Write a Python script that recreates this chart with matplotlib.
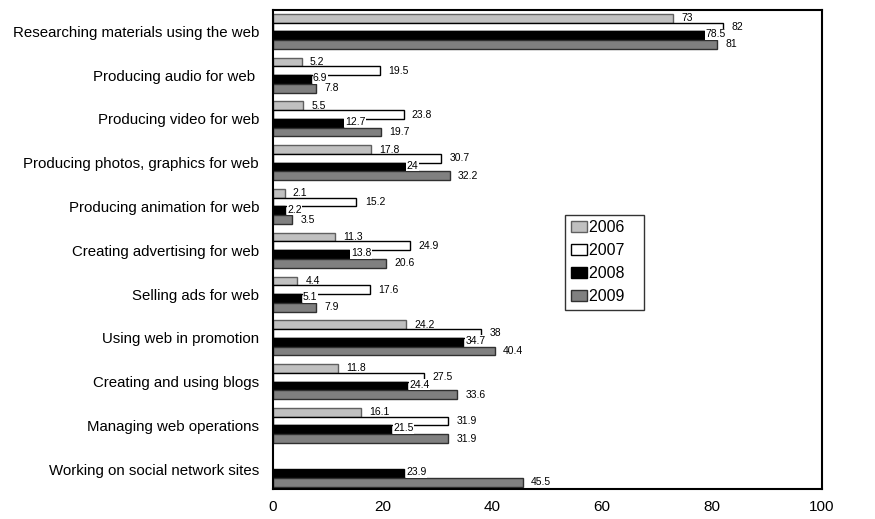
import numpy as np
import matplotlib
matplotlib.use('Agg')
import matplotlib.pyplot as plt

plt.rcParams['font.family'] = ['Liberation Sans', 'DejaVu Sans']

# 数据
categories = [
    'Researching materials using the web',
    'Producing audio for web ',
    'Producing video for web',
    'Producing photos, graphics for web',
    'Producing animation for web',
    'Creating advertising for web',
    'Selling ads for web',
    'Using web in promotion',
    'Creating and using blogs',
    'Managing web operations',
    'Working on social network sites',
]
years = ['2006', '2007', '2008', '2009']
v2006 = [73, 5.2, 5.5, 17.8, 2.1, 11.3, 4.4, 24.2, 11.8, 16.1, None]
v2007 = [82, 19.5, 23.8, 30.7, 15.2, 24.9, 17.6, 38, 27.5, 31.9, None]
v2008 = [78.5, 6.9, 12.7, 24, 2.2, 13.8, 5.1, 34.7, 24.4, 21.5, 23.9]
v2009 = [81, 7.8, 19.7, 32.2, 3.5, 20.6, 7.9, 40.4, 33.6, 31.9, 45.5]

series = [v2006, v2007, v2008, v2009]
faces = ['#c0c0c0', '#ffffff', '#000000', '#808080']
edges = ['#606060', '#000000', '#000000', '#303030']
offsets = [-0.3, -0.1, 0.1, 0.3]

fig = plt.figure(figsize=(8.75, 5.19), dpi=100)
ax = fig.add_axes([0.312, 0.058, 0.627, 0.923])

y = np.arange(len(categories))
for vals, yr, fc, ec, off in zip(series, years, faces, edges, offsets):
    v = np.array([np.nan if x is None else x for x in vals], dtype=float)
    ax.barh(y + off, v, height=0.2, color=fc, edgecolor=ec, linewidth=1.0, label=yr)
    for yi, x in zip(y, vals):
        if x is None:
            continue
        txt = f'{x:g}'
        if yr == '2008':
            ax.annotate(txt, (x, yi + off - 0.03), xytext=(1.5, 0), textcoords='offset points',
                        va='center', ha='left', fontsize=7.5,
                        bbox=dict(facecolor='white', edgecolor='none', pad=0.3))
        else:
            ax.annotate(txt, (x, yi + off), xytext=(6, 0), textcoords='offset points',
                        va='center', ha='left', fontsize=7.5)

ax.set_xlim(0, 100)
ax.set_ylim(10.45, -0.49)
ax.set_xticks([0, 20, 40, 60, 80, 100])
ax.tick_params(axis='x', length=0, labelsize=11, pad=8)
ax.set_yticks(y)
ax.set_yticklabels(categories, fontsize=10.8)
ax.tick_params(axis='y', length=0, pad=10)
for s in ax.spines.values():
    s.set_linewidth(1.5)

leg = ax.legend([f'{yr}   ' for yr in years], loc='upper left',
                bbox_to_anchor=(0.533, 0.572), fontsize=11.5,
                frameon=True, fancybox=False, edgecolor='black',
                handlelength=1.0, handleheight=0.7, handletextpad=0.15,
                labelspacing=0.5, borderpad=0.35, borderaxespad=0)
leg.get_frame().set_linewidth(1.0)

plt.savefig('out.png', dpi=100)
